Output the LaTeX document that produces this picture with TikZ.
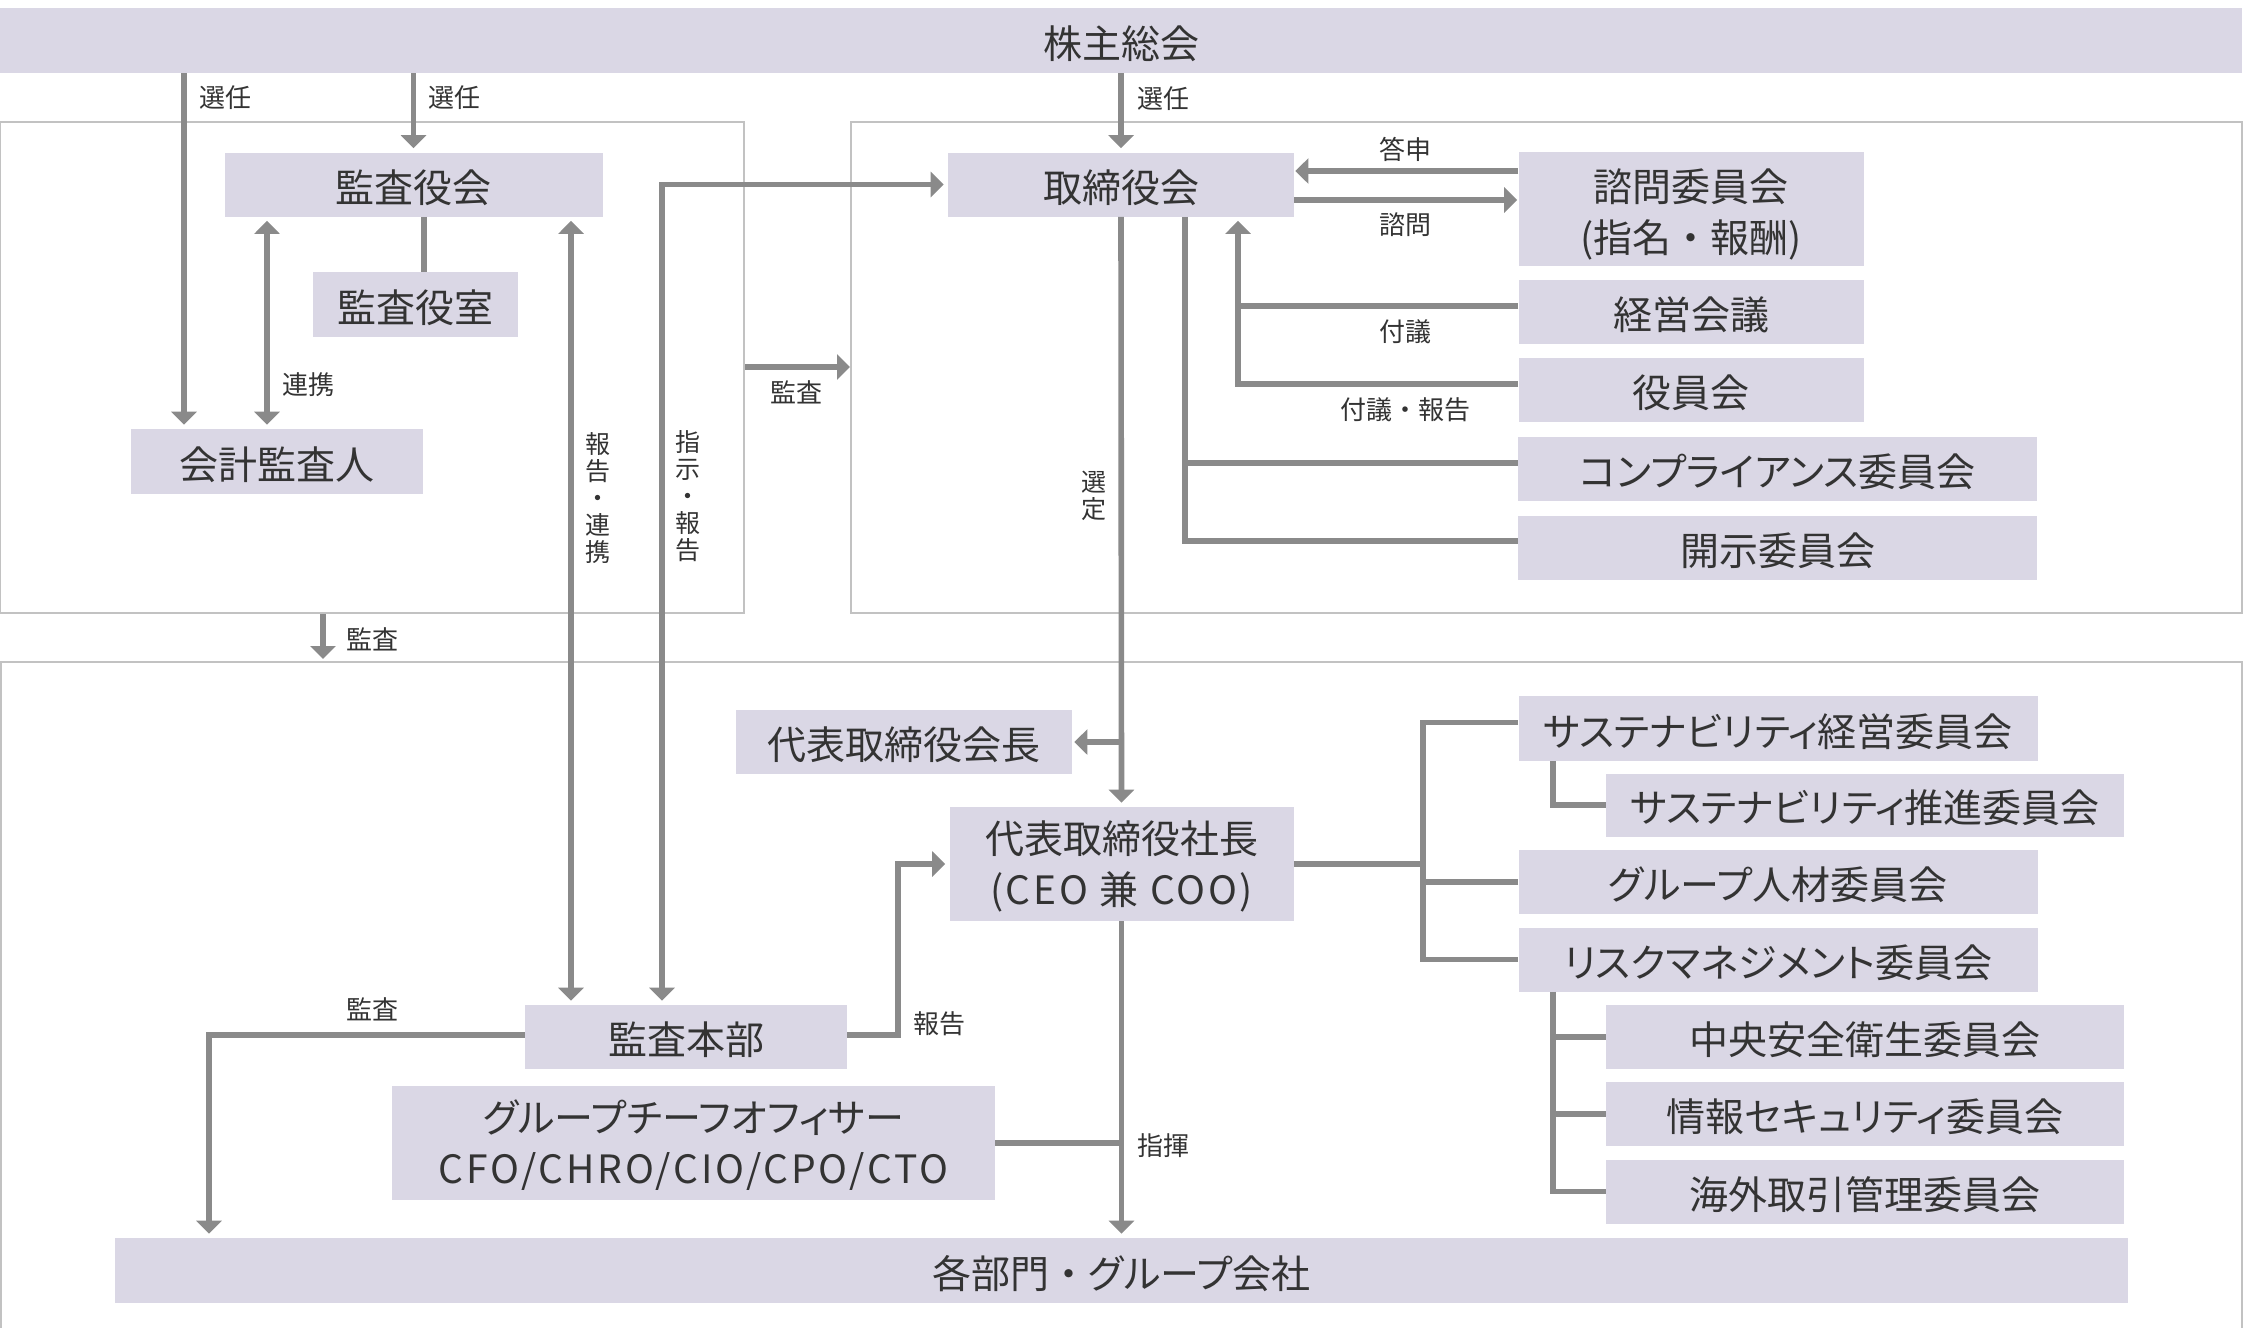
\documentclass[tikz,border=0pt]{standalone}
\usepackage{fontspec}
\newfontfamily\jp{Noto Sans CJK JP}
\newfontfamily\jpp[RawFeature=+palt]{Noto Sans CJK JP}
\newfontfamily\jpl[LetterSpace=7]{Noto Sans CJK JP}
\usetikzlibrary{arrows.meta}
\definecolor{boxc}{HTML}{DAD7E5}
\definecolor{linec}{HTML}{8A8A8A}
\definecolor{framec}{HTML}{C2C2C2}
\definecolor{txt}{HTML}{333333}
\tikzset{
  bx/.style={fill=boxc, inner sep=0pt, text=txt, align=center,
    font=\jp\fontsize{19.5pt}{25.5pt}\selectfont, text height=18.5pt, text depth=1pt},
  bxp/.style={bx, font=\jpp\fontsize{19.5pt}{25.5pt}\selectfont},
  two/.style={text height=44pt, text depth=1pt},
  twoup/.style={text height=41pt, text depth=1pt},
  lbl/.style={inner sep=0pt, text=txt, align=center,
    font=\jp\fontsize{13pt}{13.5pt}\selectfont},
  vlbl/.style={lbl, font=\jp\fontsize{12.5pt}{13.5pt}\selectfont},
  ln/.style={draw=linec, line width=2.8pt, line join=miter},
  arr/.style={ln, -{Triangle[width=12.5pt,length=6.5pt]}, shorten >=2pt},
  darr/.style={ln, {Triangle[width=12.5pt,length=6.5pt]}-{Triangle[width=12.5pt,length=6.5pt]},
    shorten >=2pt, shorten <=2pt},
  framebox/.style={draw=framec, line width=1pt, inner sep=0pt},
}
\begin{document}
\begin{tikzpicture}[x=0.5pt,y=-0.5pt]
\fill[white] (0,0) rectangle (2244,1328);
\useasboundingbox (0,0) rectangle (2244,1328);

% frames
\node[framebox, minimum width=372pt, minimum height=245.5pt] (lf) at (372,367.5) {};
\node[framebox, minimum width=695.5pt, minimum height=245.5pt] (rf) at (1546.5,367.5) {};
\draw[draw=framec, line width=1pt] (1,1340) -- (1,662) -- (2242,662) -- (2242,1340);
\coordinate (bf) at (0,662);

% boxes
\node[bx, minimum width=1121pt, minimum height=32.5pt] (kabu) at (1121,40.5) {株主総会};
\node[bx, minimum width=189pt, minimum height=32pt] (kansa) at (413.5,184.5) {監査役会};
\node[bx, minimum width=102.5pt, minimum height=32.5pt] (kansashitsu) at (415.5,304.5) {監査役室};
\node[bx, minimum width=146pt, minimum height=32.5pt] (kaikei) at (277,461.5) {会計監査人};
\node[bx, minimum width=173pt, minimum height=32pt] (tori) at (1121,184.5) {取締役会};
\node[bx, two, minimum width=172.5pt, minimum height=57pt] (shimon) at (1691,209) {諮問委員会\\(指名・報酬)};
\node[bx, minimum width=172.5pt, minimum height=32pt] (keiei) at (1691,312) {経営会議};
\node[bx, minimum width=172.5pt, minimum height=32pt] (yakuin) at (1691,390) {役員会};
\node[bxp, minimum width=259.5pt, minimum height=32pt] (comp) at (1777.5,469) {コンプライアンス委員会};
\node[bx, minimum width=259.5pt, minimum height=32pt] (kaiji) at (1777.5,548) {開示委員会};

\node[bx, minimum width=168pt, minimum height=32pt] (kaicho) at (904,742) {代表取締役会長};
\node[bx, twoup, minimum width=172pt, minimum height=57pt] (shacho) at (1121.5,864) {代表取締役社長\\{\jpl (CEO 兼 COO)}};
\node[bx, minimum width=161pt, minimum height=32pt] (honbu) at (686,1037) {監査本部};
\node[bxp, twoup, minimum width=301.5pt, minimum height=57pt] (cfo) at (693.5,1143) {グループチーフオフィサー\\{\jpl CFO/CHRO/CIO/CPO/CTO}};
\node[bxp, minimum width=1006.5pt, minimum height=32.5pt] (kakubu) at (1121.5,1270.5) {各部門{\jp ・}グループ会社};

\node[bxp, minimum width=259.5pt, minimum height=32.5pt] (sus1) at (1778,728.5) {サステナビリティ経営委員会};
\node[bxp, minimum width=259pt, minimum height=31.5pt] (sus2) at (1865,805) {サステナビリティ推進委員会};
\node[bxp, minimum width=259.5pt, minimum height=32pt] (jinzai) at (1778,882) {グループ人材委員会};
\node[bxp, minimum width=259.5pt, minimum height=32pt] (risk) at (1778,959.5) {リスクマネジメント委員会};
\node[bx, minimum width=259pt, minimum height=32pt] (chuo) at (1865,1037) {中央安全衛生委員会};
\node[bxp, minimum width=259pt, minimum height=32pt] (joho) at (1865,1114) {情報セキュリティ委員会};
\node[bx, minimum width=259pt, minimum height=32pt] (kaigai) at (1865,1191.5) {海外取引管理委員会};

% helper coordinates
\coordinate (xA) at (184,0);
\coordinate (xB) at (424,0);
\coordinate (xC) at (267,0);
\coordinate (xD) at (571,0);
\coordinate (xE) at (662,0);
\coordinate (xF) at (323,0);
\coordinate (yG) at (0,367);
\coordinate (xH) at (1238,0);
\coordinate (xI) at (1185,0);
\coordinate (xJ) at (898,0);
\coordinate (xK) at (209,0);
\coordinate (xL) at (1423,0);
\coordinate (xM) at (1553,0);
\coordinate (tA) at ([yshift=19pt]shimon.west);
\coordinate (tB) at ([yshift=4.5pt]shimon.west);
\coordinate (kA) at ([yshift=3pt]keiei.west);
\coordinate (yA) at ([yshift=3pt]yakuin.west);
\coordinate (cA) at ([yshift=3pt]comp.west);
\coordinate (dA) at ([yshift=3.5pt]kaiji.west);
\coordinate (hA) at ([yshift=1pt]honbu.east);
\coordinate (hB) at ([yshift=1pt]honbu.west);
\coordinate (s1) at ([yshift=3pt]sus1.west);

% connectors (top part)
\draw[arr] (kabu.south -| xA) -- (kaikei.north -| xA);
\draw[arr] (kabu.south -| kansa.north) -- (kansa.north);
\draw[arr] (kabu.south -| tori.north) -- (tori.north);
\draw[ln] (kansa.south -| xB) -- (kansashitsu.north -| xB);
\draw[darr] (kansa.south -| xC) -- (kaikei.north -| xC);
\draw[darr] (kansa.south -| xD) -- (honbu.north -| xD);
\draw[darr] (honbu.north -| xE) |- (tori.west);
\draw[arr, shorten >=0pt] (lf.east |- yG) -- (rf.west |- yG);
\draw[arr, shorten >=1.5pt] (lf.south -| xF) -- (bf -| xF);
\draw[arr, shorten >=0.5pt] (tA) -- (tA -| tori.east);
\draw[arr, shorten >=0.5pt] (tB -| tori.east) -- (tB);
\draw[arr] (yA) -| (tori.south -| xH);
\draw[ln] (kA) -- (kA -| xH);
\draw[ln] (tori.south -| xI) |- (dA);
\draw[ln] (cA) -- (cA -| xI);

% connectors (executive part)
\draw[arr] (tori.south) -- (shacho.north);
\draw[arr, shorten >=1pt] (kaicho.east -| tori.south) -- (kaicho.east);
\draw[arr] (hA) -| (xJ |- shacho.west) -- (shacho.west);
\draw[arr] (hB) -| (xK |- kakubu.north);
\draw[arr] (shacho.south) -- (kakubu.north -| shacho.south);
\draw[ln] (cfo.east) -- (cfo.east -| shacho.south);

% committees
\draw[ln] (shacho.east) -- (shacho.east -| xL);
\draw[ln] (s1) -| (xL |- risk.west) -- (risk.west);
\draw[ln] (jinzai.west) -- (jinzai.west -| xL);
\draw[ln] (sus1.south -| xM) |- (sus2.west);
\draw[ln] (risk.south -| xM) |- (kaigai.west);
\draw[ln] (chuo.west) -- (chuo.west -| xM);
\draw[ln] (joho.west) -- (joho.west -| xM);

% labels
\node[lbl] (l1) at (225,97.5) {選任};
\node[lbl] (l2) at (454.5,97.5) {選任};
\node[lbl] (l3) at (1163,98.5) {選任};
\node[lbl] (l4) at (308.5,384.5) {連携};
\node[lbl] (l5) at (796,392) {監査};
\node[lbl] (l6) at (372.5,639) {監査};
\node[vlbl] (l7) at (598,498) {報\\告\\・\\連\\携};
\node[vlbl] (l8) at (688,496) {指\\示\\・\\報\\告};
\node[lbl] (l9) at (1405.5,149) {答申};
\node[lbl] (l10) at (1405.5,225) {諮問};
\node[lbl] (l11) at (1405.5,332) {付議};
\node[lbl] (l12) at (1405.5,410) {付議・報告};
\node[vlbl] (l13) at (1094,496) {選\\定};
\node[lbl] (l14) at (372.5,1009) {監査};
\node[lbl] (l15) at (939,1023.5) {報告};
\node[lbl] (l16) at (1163,1146) {指揮};
\end{tikzpicture}
\end{document}
